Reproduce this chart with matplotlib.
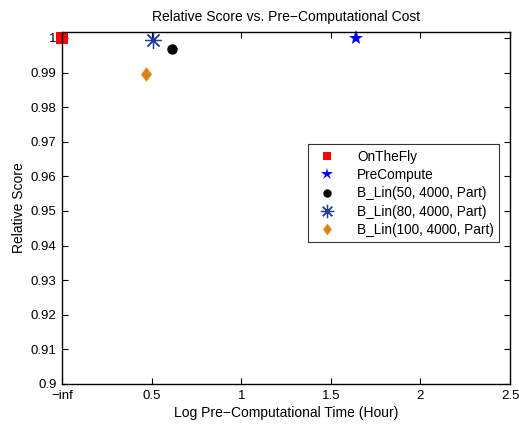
import matplotlib
matplotlib.use("Agg")
import matplotlib.pyplot as plt
from matplotlib.path import Path

plt.rcParams["font.family"] = ["Liberation Sans", "DejaVu Sans"]
plt.rcParams["axes.unicode_minus"] = True

# data (x = log pre-computational time, 0 drawn as -inf)
labels = [
    "OnTheFly",
    "PreCompute",
    "B_Lin(50, 4000, Part)",
    "B_Lin(80, 4000, Part)",
    "B_Lin(100, 4000, Part)",
]
log_time = [0.0, 1.64, 0.614, 0.508, 0.468]
rel_score = [1.0, 1.0, 0.9968, 0.9994, 0.9896]

# MATLAB-like diamond (a bit taller than wide)
diamond = Path([(0, 1), (0.75, 0), (0, -1), (-0.75, 0), (0, 1)], closed=True)

markers = ["s", "*", "o", (8, 2, 0), diamond]
colors = ["#ff0000", "#0000ff", "#000000", "#1f3d99", "#e0820f"]
sizes = [8, 11, 7.5, 12, 10.5]

x_ticks = [0, 0.5, 1, 1.5, 2, 2.5]
x_ticklabels = ["\u2212inf", "0.5", "1", "1.5", "2", "2.5"]
y_ticks = [0.9 + 0.01 * i for i in range(11)]
y_ticklabels = ["0.9", "0.91", "0.92", "0.93", "0.94", "0.95",
                "0.96", "0.97", "0.98", "0.99", "1"]

fig = plt.figure(figsize=(5.19, 4.29), dpi=100)
ax = fig.add_axes([0.1195, 0.1049, 0.8632, 0.8211])

for i in range(len(labels)):
    m = markers[i]
    if isinstance(m, tuple):
        # MATLAB style asterisk
        ax.plot(log_time[i], rel_score[i], linestyle="none", marker=m,
                color=colors[i], markersize=sizes[i], markeredgewidth=0.9,
                label=labels[i], clip_on=False)
    else:
        ax.plot(log_time[i], rel_score[i], linestyle="none", marker=m,
                color=colors[i], markersize=sizes[i], markeredgewidth=0,
                label=labels[i], clip_on=False)

ax.set_xlim(0, 2.5)
ax.set_ylim(0.9, 1.0018)
ax.set_xticks(x_ticks)
ax.set_xticklabels(x_ticklabels)
ax.set_yticks(y_ticks)
ax.set_yticklabels(y_ticklabels)
ax.tick_params(direction="in", top=True, right=True, labelsize=9.5,
               length=4, width=0.8, pad=4)
for s in ax.spines.values():
    s.set_linewidth(1.0)

ax.set_title("Relative Score vs. Pre\u2212Computational Cost", fontsize=10, pad=8)
ax.set_xlabel("Log Pre\u2212Computational Time (Hour)", fontsize=10, labelpad=3)
ax.set_ylabel("Relative Score", fontsize=10, labelpad=3)

leg = ax.legend(loc="upper left", bbox_to_anchor=(0.549, 0.681), fontsize=9.8,
                frameon=True, fancybox=False, edgecolor="black",
                borderpad=0.4, labelspacing=0.32, handletextpad=1.2,
                handlelength=2.0, borderaxespad=0, markerscale=0.8)
leg.get_frame().set_linewidth(0.8)

fig.savefig("out.png", dpi=100)
